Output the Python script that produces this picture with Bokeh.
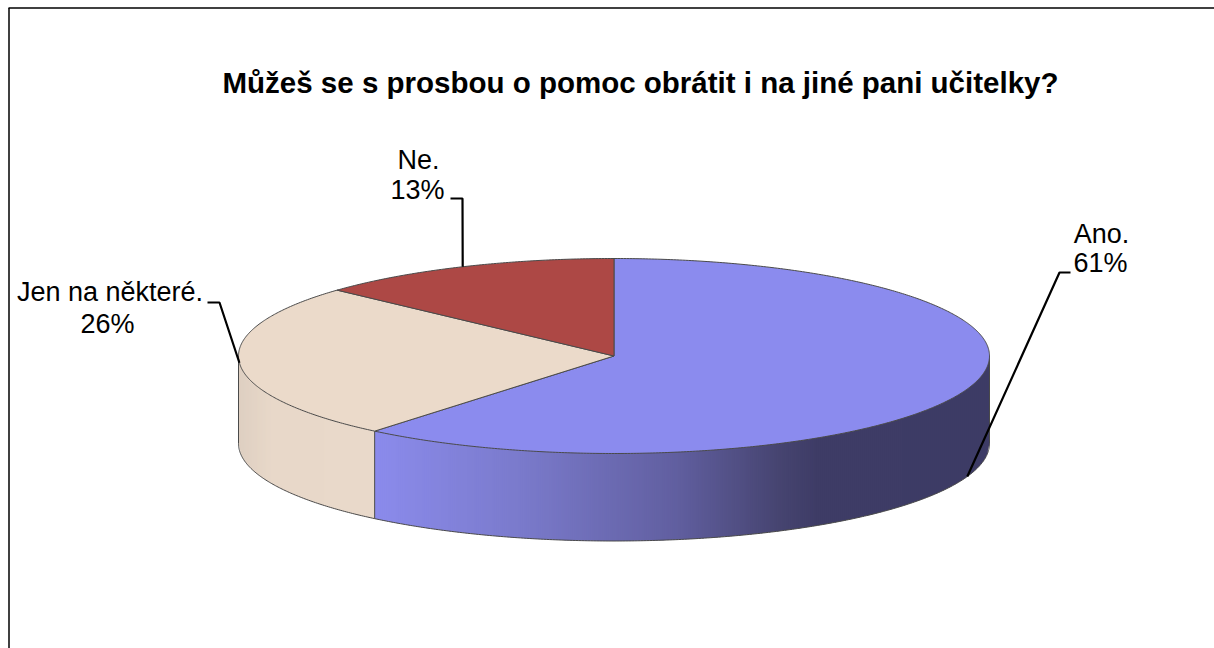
import math
from bokeh.plotting import figure
from bokeh.models import Range1d
from bokeh.core.properties import value
from bokeh.embed import file_html
from bokeh.resources import INLINE

# data
title_text = "Můžeš se s prosbou o pomoc obrátit i na jiné pani učitelky?"
categories = ["Ano.", "Jen na některé.", "Ne."]
shares = [61.0, 25.8, 13.2]
pct_labels = ["61%", "26%", "13%"]
top_colors = ["#8B8BEE", "#EBDACA", "#AD4845"]

# gradient stops of the side walls, left to right: (fraction across the wall, colour)
blue_stops = [(0.0, (139, 139, 236)), (0.24, (122, 122, 203)), (0.49, (97, 95, 160)),
              (0.66, (70, 68, 112)), (0.72, (62, 60, 102)), (1.0, (61, 59, 101))]
beige_stops = [(0.0, (222, 207, 193)), (0.25, (232, 216, 201)), (1.0, (233, 217, 202))]

# layout (screen pixels)
W, H = 1214, 648
CX, CY, A, B, DEPTH = 613.5, 355.5, 375.5, 97.5, 87.5
EDGE = "#4A4A4A"

p = figure(width=W, height=H, output_backend="svg", toolbar_location=None,
           x_range=Range1d(0, W), y_range=Range1d(H, 0),
           min_border=0, outline_line_color=None, background_fill_color="white",
           border_fill_color="white")
p.xaxis.visible = False
p.yaxis.visible = False
p.xgrid.visible = False
p.ygrid.visible = False


def pt(t, drop=0.0):
    return CX + A * math.sin(t), CY - B * math.cos(t) + drop


def lerp(stops, f):
    for (f0, c0), (f1, c1) in zip(stops, stops[1:]):
        if f <= f1:
            u = (f - f0) / (f1 - f0) if f1 > f0 else 0
            return "#%02X%02X%02X" % tuple(round(a + (b - a) * u) for a, b in zip(c0, c1))
    return "#%02X%02X%02X" % stops[-1][1]


# slice angles (clockwise from twelve o'clock)
edges = [0.0]
for s in shares:
    edges.append(edges[-1] + s / sum(shares) * 2 * math.pi)
spans = list(zip(edges[:-1], edges[1:]))


def rim_y(x):
    """Lower rim of the top ellipse at a given x."""
    u = min(1.0, abs(x - CX) / A)
    return CY + B * math.sqrt(1 - u * u)


def wall(t0, t1, stops, step=2.0):
    """Front wall between two angles, as narrow vertical strips coloured by x."""
    x0, x1 = sorted((pt(t0)[0], pt(t1)[0]))
    xs, ys, cols = [], [], []
    x = x0
    while x < x1:
        xa, xb = x, min(x1, x + step * 1.5)
        xs.append([xa, xb, xb, xa])
        ys.append([rim_y(xa) - 1, rim_y(xb) - 1, rim_y(xb) + DEPTH, rim_y(xa) + DEPTH])
        cols.append(lerp(stops, (x + step / 2 - x0) / (x1 - x0)))
        x += step
    p.patches(xs, ys, fill_color=cols, line_color=None)


# visible walls: the front half only (from 3 o'clock round to 9 o'clock)
wall(math.pi / 2, spans[0][1], blue_stops)
wall(spans[1][0], 3 * math.pi / 2, beige_stops)

# wall outlines
ts = [math.pi / 2 + i / 400 * math.pi for i in range(401)]
bx, by = zip(*[pt(t, DEPTH) for t in ts])
p.line(bx, by, line_color=EDGE, line_width=1)
for t in (math.pi / 2, 3 * math.pi / 2, spans[0][1]):
    (x, y) = pt(t)
    p.line([x, x], [y, y + DEPTH], line_color=EDGE, line_width=1)

# top faces
for (t0, t1), col in zip(spans, top_colors):
    n = max(8, int((t1 - t0) * 120))
    arc = [pt(t0 + (t1 - t0) * i / n) for i in range(n + 1)]
    xs = [CX] + [q[0] for q in arc]
    ys = [CY] + [q[1] for q in arc]
    p.patch(xs, ys, fill_color=col, line_color=EDGE, line_width=1)

# leader lines: start at each slice's middle, on the rim
mids = [(a + b) / 2 for a, b in spans]
starts = [pt(mids[0], DEPTH), pt(mids[1]), pt(mids[2])]
elbows = [(1059, 272), (219, 302), (462, 198)]
ends = [(1070, 272), (207, 302), (450, 198)]
for s, e, f in zip(starts, elbows, ends):
    p.line([s[0], e[0], f[0]], [s[1], e[1], f[1]], line_color="#000000", line_width=2.2)

# texts
FONT = value("Liberation Sans")
p.text([640], [82], text=[title_text], text_font=FONT, text_font_style="bold",
       text_font_size="29.5px", text_color="#000000", text_align="center", text_baseline="middle")
name_x = [1101, 109.5, 418]
name_y = [233, 291, 159.5]
pct_x = [1100, 107, 417]
pct_y = [262.5, 323.5, 189.5]
p.text(name_x, name_y, text=categories, text_font=FONT, text_font_size="27px",
       text_color="#000000", text_align="center", text_baseline="middle")
p.text(pct_x, pct_y, text=pct_labels, text_font=FONT, text_font_size="27px",
       text_color="#000000", text_align="center", text_baseline="middle")

# frame: only the left and top edges are in the picture
p.line([8.5, 8.5], [7.5, H], line_color="#000000", line_width=1.5)
p.line([8, W], [7.5, 7.5], line_color="#000000", line_width=1.5)

open("out.html", "w").write(file_html(p, INLINE))
